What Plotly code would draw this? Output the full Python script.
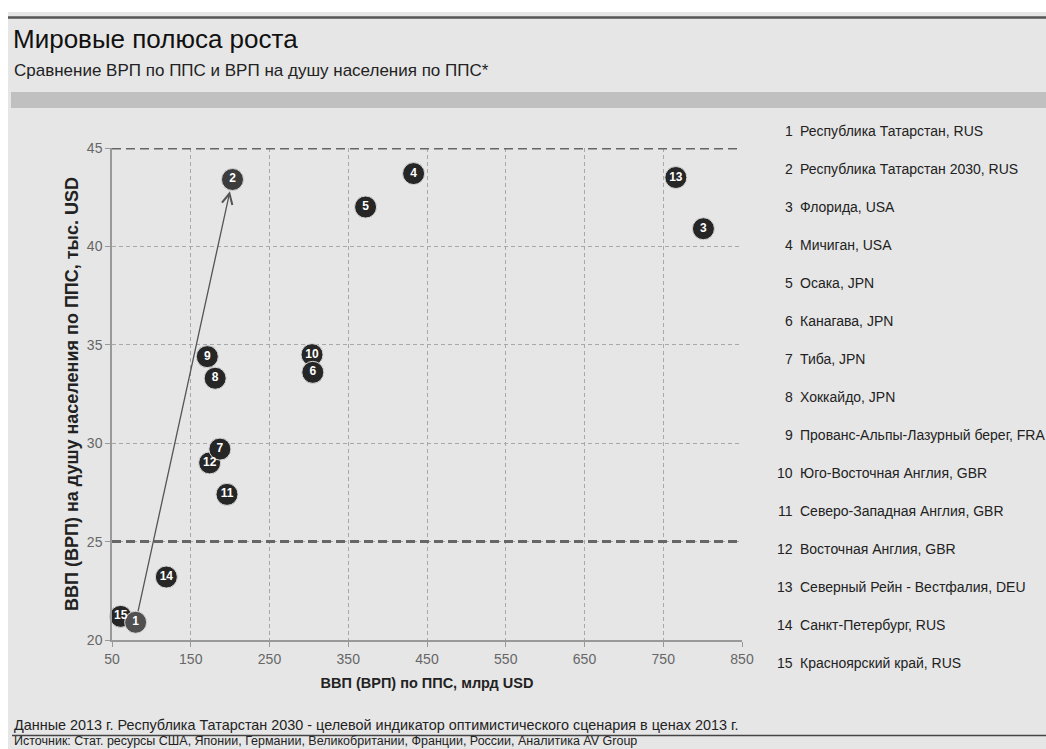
import plotly.graph_objects as go

# ---- data ----
ids = [str(i) for i in range(1, 16)]
names = [
    "Республика Татарстан, RUS",
    "Республика Татарстан 2030, RUS",
    "Флорида, USA",
    "Мичиган, USA",
    "Осака, JPN",
    "Канагава, JPN",
    "Тиба, JPN",
    "Хоккайдо, JPN",
    "Прованс-Альпы-Лазурный берег, FRA",
    "Юго-Восточная Англия, GBR",
    "Северо-Западная Англия, GBR",
    "Восточная Англия, GBR",
    "Северный Рейн - Вестфалия, DEU",
    "Санкт-Петербург, RUS",
    "Красноярский край, RUS",
]
gdp_ppp = [80, 203, 801, 433, 372, 305, 187, 181, 171, 304, 196, 174, 766, 119, 61]
gdp_pc = [20.9, 43.4, 40.9, 43.7, 42.0, 33.6, 29.7, 33.3, 34.4, 34.5, 27.4, 29.0, 43.5, 23.2, 21.2]
x_ticks = [50, 150, 250, 350, 450, 550, 650, 750, 850]
y_ticks = [20, 25, 30, 35, 40, 45]
threshold_lines = [25, 45]

BG = "#e6e6e6"
FONT = "Liberation Sans, Arial, sans-serif"
NARROW = "Liberation Sans Narrow, Arial Narrow, " + FONT

# draw order: 15 under 1 etc.
order = [14, 13, 12, 10, 11, 6, 7, 8, 9, 5, 4, 3, 2, 1, 0]
colors = ["#505050" if i == 0 else ("#3c3c3c" if i == 1 else "#262626") for i in range(15)]

fig = go.Figure()
fig.add_trace(go.Scatter(
    x=[gdp_ppp[i] for i in order],
    y=[gdp_pc[i] for i in order],
    mode="markers+text",
    text=["<b>" + ids[i] + "</b>" for i in order],
    textposition="middle center",
    textfont=dict(family=FONT, size=12, color="white"),
    marker=dict(size=22, color=[colors[i] for i in order],
                line=dict(color="#d8d8d8", width=1)),
    hoverinfo="skip",
    showlegend=False,
    cliponaxis=False,
))

# arrow from point 1 to point 2
fig.add_annotation(
    x=gdp_ppp[1], y=gdp_pc[1], ax=gdp_ppp[0], ay=gdp_pc[0],
    xref="x", yref="y", axref="x", ayref="y",
    showarrow=True, arrowhead=5, arrowsize=1.6, arrowwidth=1.3,
    arrowcolor="#555555", standoff=12, startstandoff=10, text="",
)


# page pixel coordinates -> paper coordinates
def px_x(px):
    return (px - 112) / 630


def px_y(py):
    return (640 - py) / 492


shapes = []
shapes.append(dict(type="rect", xref="paper", yref="paper", x0=px_x(8), x1=px_x(1046),
                   y0=px_y(749), y1=px_y(12), fillcolor=BG, line_width=0, layer="below"))
for yv in threshold_lines:
    shapes.append(dict(type="line", xref="x", yref="y", x0=x_ticks[0], x1=x_ticks[-1], y0=yv, y1=yv,
                       line=dict(color="#666666", width=3, dash="9px,5px"), layer="above"))
shapes.append(dict(type="line", xref="paper", yref="paper", x0=px_x(8), x1=px_x(1046),
                   y0=px_y(17.5), y1=px_y(17.5), line=dict(color="#555555", width=2.5)))
shapes.append(dict(type="rect", xref="paper", yref="paper", x0=px_x(11), x1=px_x(1046),
                   y0=px_y(108), y1=px_y(92), fillcolor="#c0c0c0", line_width=0))
shapes.append(dict(type="line", xref="paper", yref="paper", x0=px_x(12), x1=px_x(1046),
                   y0=px_y(735.5), y1=px_y(735.5), line=dict(color="#444444", width=1.5)))
fig.update_layout(shapes=shapes)

fig.add_annotation(xref="paper", yref="paper", x=px_x(11), y=px_y(39), xanchor="left", yanchor="middle",
                   text="Мировые полюса роста", showarrow=False,
                   font=dict(family=FONT, size=26, color="#111111"))
fig.add_annotation(xref="paper", yref="paper", x=px_x(12), y=px_y(70), xanchor="left", yanchor="middle",
                   text="Сравнение ВРП по ППС и ВРП на душу населения по ППС*", showarrow=False,
                   font=dict(family=FONT, size=17, color="#222222"))
fig.add_annotation(xref="paper", yref="paper", x=px_x(12), y=px_y(725), xanchor="left", yanchor="middle",
                   text="Данные 2013 г. Республика Татарстан 2030 - целевой индикатор оптимистического сценария в ценах 2013 г.",
                   showarrow=False,
                   font=dict(family=NARROW, size=14.4, color="#222222"))
fig.add_annotation(xref="paper", yref="paper", x=px_x(12), y=px_y(741), xanchor="left", yanchor="middle",
                   text="Источник: Стат. ресурсы США, Японии, Германии, Великобритании, Франции, России, Аналитика AV Group",
                   showarrow=False,
                   font=dict(family=NARROW, size=12.5, color="#222222"))

# right-hand list
for i, (num, nm) in enumerate(zip(ids, names)):
    ypix = 131 + i * 38.0
    fig.add_annotation(xref="paper", yref="paper", x=px_x(795), y=px_y(ypix), xanchor="right",
                       yanchor="middle", text=num, showarrow=False,
                       font=dict(family=FONT, size=14, color="#222222"))
    fig.add_annotation(xref="paper", yref="paper", x=px_x(798), y=px_y(ypix), xanchor="left",
                       yanchor="middle", text=nm, showarrow=False,
                       font=dict(family=FONT, size=14, color="#222222"))

fig.update_layout(
    width=1046, height=749, autosize=False,
    margin=dict(l=112, r=304, t=148, b=109),
    paper_bgcolor="white", plot_bgcolor=BG,
    font=dict(family=FONT),
    xaxis=dict(range=[x_ticks[0], x_ticks[-1]], tickvals=x_ticks, ticktext=[str(v) for v in x_ticks],
               showgrid=True, gridcolor="#a8a8a8", griddash="4px,3px", gridwidth=1,
               showline=True, linecolor="#999999", linewidth=1.5,
               ticks="outside", ticklen=5, tickcolor="#999999",
               tickfont=dict(size=14, color="#666666"), zeroline=False,
               title=dict(text="<b>ВВП (ВРП) по ППС, млрд USD</b>", font=dict(size=14.5, color="#222222"), standoff=12)),
    yaxis=dict(range=[y_ticks[0], y_ticks[-1]], tickvals=y_ticks, ticktext=[str(v) for v in y_ticks],
               showgrid=True, gridcolor="#a8a8a8", griddash="4px,3px", gridwidth=1,
               showline=True, linecolor="#999999", linewidth=1.5,
               ticks="outside", ticklen=5, tickcolor="#999999",
               tickfont=dict(size=14, color="#666666"), zeroline=False,
               title=dict(text="<b>ВВП (ВРП) на душу населения по ППС, тыс. USD</b>", font=dict(size=18, color="#222222"), standoff=4)),
)

fig.write_html("out.html", config={"displayModeBar": False},
               post_script="document.body.style.margin='0';document.body.style.overflow='hidden';")
